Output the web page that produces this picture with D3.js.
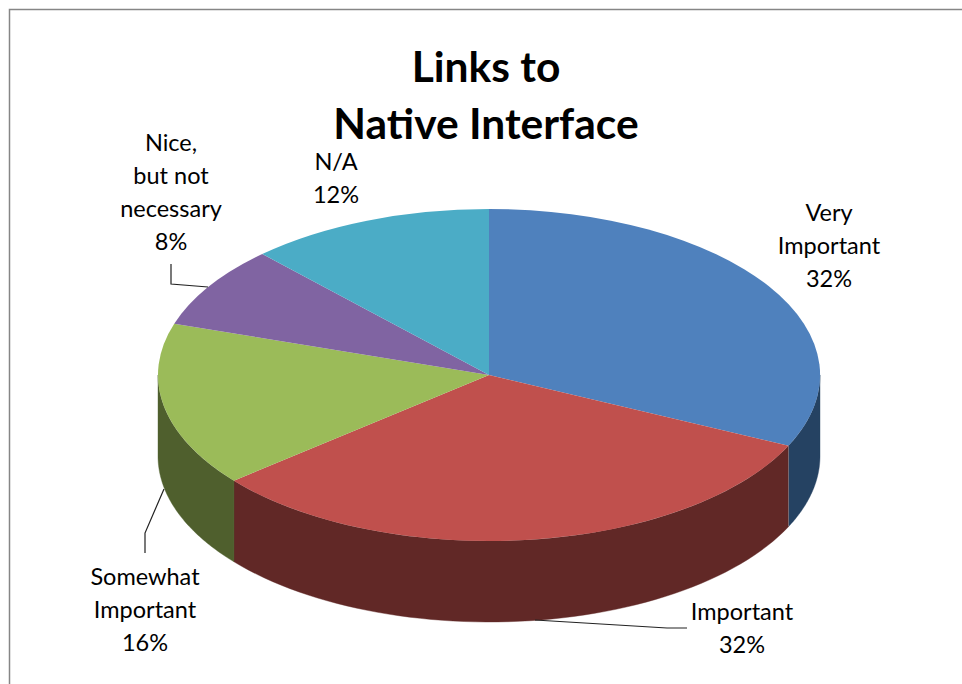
<!DOCTYPE html>
<html>
<head>
<meta charset="utf-8">
<script src="https://cdn.jsdelivr.net/npm/d3@7/dist/d3.min.js"></script>
<style>
html,body{margin:0;padding:0;background:#fff;overflow:hidden}
svg{display:block}
text{font-family:Lato,"Open Sans",sans-serif;fill:#000}
</style>
</head>
<body>
<script>
const categories = ["Very Important","Important","Somewhat Important","Nice, but not necessary","N/A"];
const values = [32,32,16,8,12];
const labelLines = [["Very","Important","32%"],["Important","32%"],["Somewhat","Important","16%"],["Nice,","but not","necessary","8%"],["N/A","12%"]];
const titleLines = ["Links to","Native Interface"];
const topColors = ["#4f81bd","#c0504d","#9bbb59","#8064a2","#4bacc6"];
const sideColors = ["#254262","#612826","#4f5f2d","#403252","#25566a"];
const labelAnchors = [[829,220.5],[742,619.5],[145,584.5],[171,151],[336,170]];
const leaders = [null,[[535,620],[667,628],[687,628]],[[164,489],[145,533],[145,553]],[[208,287],[171,284],[171,264]],null];

const W=962,H=684,cx=489,cy=375,rx=331,ry=166,depth=81;
const svg=d3.select("body").append("svg").attr("width",W).attr("height",H);

// frame
svg.append("path").attr("d",`M9.5,${H}V9.5H${W}`).attr("fill","none").attr("stroke","#868686").attr("stroke-width",1.5);

const pie=d3.pie().sort(null).value(d=>d);
const arcs=pie(values);
const sx=d3.scaleLinear().domain([-1,1]).range([cx-rx,cx+rx]);
const sy=d3.scaleLinear().domain([-1,1]).range([cy-ry,cy+ry]);
const px=a=>sx(Math.sin(a)), py=a=>sy(-Math.cos(a));

// side walls: only the front half of the rim (angles from 90deg to 270deg) is visible
const g=svg.append("g");
arcs.forEach((d,i)=>{
  const a0=Math.max(d.startAngle,Math.PI/2), a1=Math.min(d.endAngle,Math.PI*1.5);
  if(a1<=a0) return;
  const pts=d3.range(0,61).map(k=>a0+(a1-a0)*k/60);
  const top=pts.map(a=>[px(a),py(a)]);
  const bot=pts.slice().reverse().map(a=>[px(a),py(a)+depth]);
  g.append("path").attr("d",d3.line()(top.concat(bot))+"Z")
    .attr("fill",sideColors[i]).attr("stroke",sideColors[i]).attr("stroke-width",0.4);
});
// seam highlight on the right wall edge
const seamA=arcs[0].endAngle;
g.append("line").attr("x1",px(seamA)).attr("y1",py(seamA)).attr("x2",px(seamA)).attr("y2",py(seamA)+depth)
  .attr("stroke","#7a6a70").attr("stroke-width",1);

// top ellipse, drawn through d3.arc in a scaled unit space
const arc=d3.arc().innerRadius(0).outerRadius(1);
const topG=svg.append("g").attr("transform",`translate(${cx},${cy}) scale(${rx},${ry})`);
topG.selectAll("path").data(arcs).join("path").attr("d",arc).attr("fill",(d,i)=>topColors[i]);

// leader lines
leaders.forEach(l=>{
  if(!l) return;
  svg.append("path").attr("d",d3.line()(l)).attr("fill","none").attr("stroke","#222").attr("stroke-width",1.2);
});

// labels
labelLines.forEach((lines,i)=>{
  const [x,y]=labelAnchors[i];
  const t=svg.append("text").attr("text-anchor","middle").attr("font-size",23.5);
  lines.forEach((s,k)=>t.append("tspan").attr("x",x).attr("y",y+k*33).text(s));
});

// title
const tt=svg.append("text").attr("text-anchor","middle").attr("font-size",42.5).attr("font-weight",700);
titleLines.forEach((s,k)=>tt.append("tspan").attr("x",486).attr("y",82+k*57).text(s));
</script>
</body>
</html>
